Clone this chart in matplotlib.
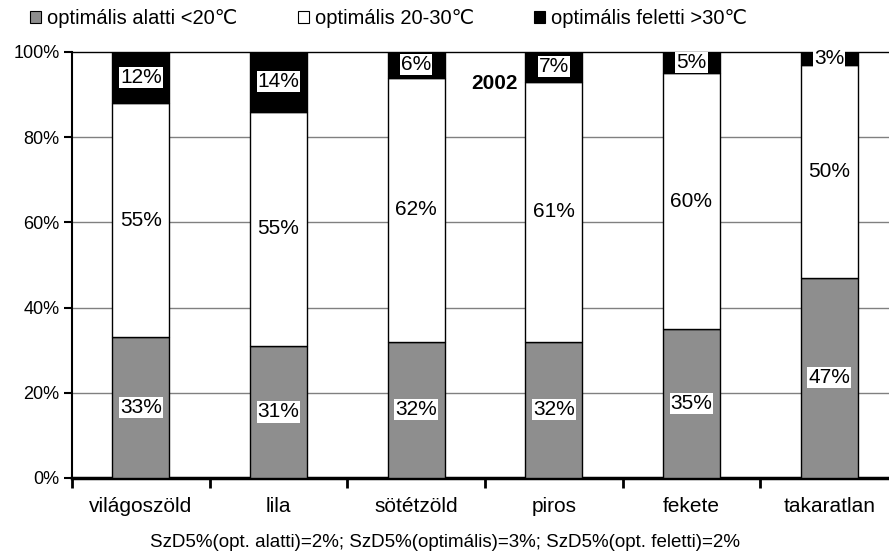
"""
Stacked percentage bars for cover colours (2002).
"""

import numpy as np
import matplotlib.pyplot as plt
from matplotlib.patches import Patch

plt.rcParams['font.family'] = ['Liberation Sans', 'DejaVu Sans']

categories = ["világoszöld", "lila", "sötétzöld", "piros", "fekete", "takaratlan"]
below_opt = [33, 31, 32, 32, 35, 47]
optimal = [55, 55, 62, 61, 60, 50]
above_opt = [12, 14, 6, 7, 5, 3]
legend_labels = ["optimális alatti <20℃", "optimális 20-30℃", "optimális feletti >30℃"]
y_ticks = [0, 20, 40, 60, 80, 100]
footnote = "SzD5%(opt. alatti)=2%; SzD5%(optimális)=3%; SzD5%(opt. feletti)=2%"
year_label = "2002"

fig = plt.figure(figsize=(8.89, 5.59), dpi=100)
ax = fig.add_axes([72 / 889, 81 / 559, 826 / 889, 426 / 559])

x = np.arange(len(categories))
w = 0.414
below = np.array(below_opt)
mid = np.array(optimal)
top = np.array(above_opt)

seg_colors = ["#8e8e8e", "white", "black"]
ax.bar(x, below, w, color=seg_colors[0], edgecolor="black", linewidth=1, zorder=3)
ax.bar(x, mid, w, bottom=below, color=seg_colors[1], edgecolor="black", linewidth=1, zorder=3)
ax.bar(x, top, w, bottom=below + mid, color=seg_colors[2], edgecolor="black", linewidth=1, zorder=3)

box = dict(facecolor="white", edgecolor="none", pad=0.8)
for i in range(len(categories)):
    ax.text(x[i], below[i] / 2, f"{below[i]}%", ha="center", va="center",
            fontsize=15, bbox=box, zorder=5)
    ax.text(x[i], below[i] + mid[i] / 2, f"{mid[i]}%", ha="center", va="center",
            fontsize=15, bbox=box, zorder=5)
    ax.text(x[i], below[i] + mid[i] + top[i] / 2, f"{top[i]}%", ha="center", va="center",
            fontsize=15, bbox=box, zorder=5)

ax.text(2.57, 92.5, year_label, ha="center", va="center", fontsize=15, fontweight="bold", zorder=5)

ax.set_xlim(-0.5, len(categories) - 0.5)
ax.set_ylim(0, 100)
ax.set_yticks(y_ticks)
ax.set_yticklabels([f"{v}%" for v in y_ticks], fontsize=13)
for v in y_ticks[1:-1]:
    ax.axhline(v, color="#808080", linewidth=1, zorder=1)

# boundaries as ticks, category names as minor labels
ax.set_xticks(np.arange(-0.5, len(categories), 1.0))
ax.set_xticklabels([])
ax.set_xticks(x, minor=True)
ax.set_xticklabels(categories, minor=True, fontsize=15)
ax.tick_params(axis="x", which="major", direction="out", length=7, width=2)
ax.tick_params(axis="x", which="minor", length=0, pad=14)
ax.tick_params(axis="y", direction="out", length=6, width=1.5, pad=3)

ax.spines["left"].set_linewidth(1.5)
ax.spines["bottom"].set_linewidth(2.5)
ax.spines["top"].set_linewidth(1)
ax.spines["right"].set_visible(False)

handles = [Patch(facecolor=c, edgecolor="black", linewidth=0.8) for c in seg_colors]
fig.legend(handles, legend_labels, loc="upper left", bbox_to_anchor=(0.013, 1.016),
           ncol=3, frameon=False, fontsize=14.5, handlelength=0.55, handleheight=0.55,
           handletextpad=0.3, columnspacing=3.0)

fig.text(0.5, 0.03, footnote, ha="center", va="center", fontsize=13.5)

fig.savefig("out.png", dpi=100)
plt.close(fig)
